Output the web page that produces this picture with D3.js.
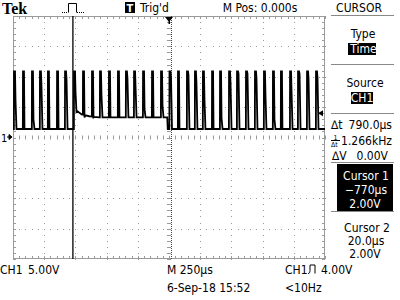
<!DOCTYPE html>
<html><head><meta charset="utf-8">
<script src="https://cdn.jsdelivr.net/npm/d3@7"></script>
<style>body{margin:0;background:#fff}svg{display:block}</style>
</head><body><svg id="c" width="400" height="300"></svg>
<script>
// ---- data ----
const timeRange = [-1250, 1250];      // µs, 250 µs/div, 10 div
const voltRange = [-20, 20];          // V, 5 V/div, 8 div
const pulseTimes = [-1242,-1170,-1098,-1034,-970,-897,-833,-761,-689,-617,-553,-481,-409,-345,-280,-208,-136,-64,4,72,144,208,272,345,409,481,545,617,689,761,833,897,970,1034,1106,1178];
const tailVolts  = [6.2,1.4,3.0,8.6,1.4,1.4,9.5,7.5,3.3,3.3,7.0,3.3,3.3,9.8,8.3,4.7,3.3,5.3,10.0,1.4,10.3,9.0,6.5,1.4,3.2,9.0,10.5,10.5,9.8,7.0,3.0,1.4,7.5,10.5,9.8,9.8];
const highVolt = 10.9;
const baseTimes = [-1250,-762,-738,-700,-640,-560,-14,-10,1250];
const baseVolts = [1.4,1.4,4.4,3.8,3.5,3.3,3.3,1.4,1.4];
const cursorTimes = [-770, 20];
const trigLevel = 4.0;
const topLabels = ["Tek","Trig'd","M Pos: 0.000s","CURSOR"];
const menuLabels = ["Type","Time","Source","CH1"];
const readouts = ["790.0µs","1.266kHz","0.00V"];
const cursor1Lines = ["Cursor 1","\u2212770µs","2.00V"];
const cursor2Lines = ["Cursor 2","20.0µs","2.00V"];
const bottomLabels = ["CH1","5.00V","M 250µs","CH1","4.00V","6-Sep-18 15:52","<10Hz"];

// ---- layout ----
const svg = d3.select("#c");
const L = 13, R = 325, T = 16, B = 259;
const x = d3.scaleLinear().domain(timeRange).range([L, R]);
const y = d3.scaleLinear().domain(voltRange).range([B, T]);
const FONT = "'Liberation Sans Narrow','DejaVu Sans Condensed',Arial,sans-serif";
const grid = "#9a9a9a";

svg.append("rect").attr("width",400).attr("height",300).attr("fill","#fff");

// graticule
const g = svg.append("g");
g.append("rect").attr("x",L+0.5).attr("y",T+0.5).attr("width",R-L-1).attr("height",B-T-1)
  .attr("fill","none").attr("stroke",grid).attr("stroke-width",1);
const xMinor = d3.range(timeRange[0], timeRange[1]+1, 50);
const yMinor = d3.range(voltRange[0], voltRange[1]+0.01, 1);
const xMajor = d3.range(timeRange[0]+250, timeRange[1], 250);
const yMajor = d3.range(voltRange[0]+5, voltRange[1], 5);
xMinor.forEach(t=>{
  const px = Math.round(x(t))+0.5;
  g.append("line").attr("x1",px).attr("x2",px).attr("y1",T).attr("y2",T+3).attr("stroke",grid);
  g.append("line").attr("x1",px).attr("x2",px).attr("y1",B-3).attr("y2",B).attr("stroke",grid);
});
yMinor.forEach(v=>{
  const py = Math.round(y(v))+0.5;
  g.append("line").attr("x1",L).attr("x2",L+3).attr("y1",py).attr("y2",py).attr("stroke",grid);
  g.append("line").attr("x1",R-3).attr("x2",R).attr("y1",py).attr("y2",py).attr("stroke",grid);
});
xMajor.forEach(t=>{
  const px = Math.round(x(t));
  yMinor.forEach(v=>{ g.append("rect").attr("x",px).attr("y",Math.round(y(v))).attr("width",1).attr("height",1).attr("fill",grid);});
});
yMajor.forEach(v=>{
  const py = Math.round(y(v));
  xMinor.forEach(t=>{ g.append("rect").attr("x",Math.round(x(t))).attr("y",py).attr("width",1).attr("height",1).attr("fill",grid);});
});
xMinor.forEach(t=>{ const px=Math.round(x(t))+0.5; g.append("line").attr("x1",px).attr("x2",px).attr("y1",y(0)-2).attr("y2",y(0)+2).attr("stroke",grid);});
yMinor.forEach(v=>{ const py=Math.round(y(v))+0.5; g.append("line").attr("x1",x(0)-2).attr("x2",x(0)+2).attr("y1",py).attr("y2",py).attr("stroke",grid);});

// cursors
svg.append("line").attr("x1",x(cursorTimes[0])).attr("x2",x(cursorTimes[0])).attr("y1",T).attr("y2",B)
  .attr("stroke","#000").attr("stroke-width",1.3);
svg.append("line").attr("x1",Math.round(x(cursorTimes[1]))+0.5).attr("x2",Math.round(x(cursorTimes[1]))+0.5).attr("y1",T).attr("y2",B)
  .attr("stroke","#444").attr("stroke-width",1).attr("stroke-dasharray","1,1");

// trace
const base = d3.scaleLinear().domain(baseTimes).range(baseVolts);
let pts = [];
baseTimes.forEach((t,i)=>{ if(!pulseTimes.some(p=>t>=p-2&&t<=p+22)) pts.push([t, baseVolts[i]]); });
pulseTimes.forEach((p,i)=>{
  pts.push([p-1, base(p-1)],[p, highVolt],[p+8, highVolt],[p+12, tailVolts[i]],[p+20, base(p+20)]);
});
pts.sort((a,b)=>a[0]-b[0]);
svg.append("path").datum(pts)
  .attr("d", d3.line().x(d=>x(d[0])).y(d=>y(d[1])))
  .attr("fill","none").attr("stroke","#000").attr("stroke-width",1.8).attr("stroke-linejoin","miter");

// trigger position marker (top)
const tx = x(0);
svg.append("path").attr("d",`M${tx-4},${T+1}h8l-4,5z M${tx-0.5},${T+5}h1.5v3h-1.5z`).attr("fill","#000");
// trigger level marker (right)
const ty = y(trigLevel);
svg.append("path").attr("d",`M${R-7},${ty}l5,-3v6z`).attr("fill","#000");
// ground marker
svg.append("text").attr("x",1).attr("y",y(0)+4).attr("font-family",FONT).attr("font-size",11).text("1");
svg.append("path").attr("d",`M7,${y(0)-0.5}h3 M9,${y(0)-3}l3,2.5l-3,2.5z`).attr("stroke","#000").attr("fill","#000").attr("stroke-width",1);

// ---- top labels ----
svg.append("text").attr("x",2).attr("y",14).attr("font-family","'Liberation Serif','DejaVu Serif',serif")
  .attr("font-weight","bold").attr("font-size",16).text(topLabels[0]);
svg.append("path").attr("d","M62,12.5h6 M77,12.5h8").attr("stroke","#000").attr("stroke-dasharray","1,1").attr("fill","none");
svg.append("path").attr("d","M68.5,12.5V3.5H76.5V12.5").attr("stroke","#000").attr("fill","none");
svg.append("rect").attr("x",125).attr("y",2).attr("width",10).attr("height",11).attr("fill","#000");
svg.append("text").attr("x",130).attr("y",11.5).attr("text-anchor","middle").attr("fill","#fff")
  .attr("font-family",FONT).attr("font-weight","bold").attr("font-size",11).text("T");
const txt = (s,xx,yy,anchor="start",fill="#000",size=12)=>svg.append("text").attr("x",xx).attr("y",yy)
  .attr("text-anchor",anchor).attr("fill",fill).attr("font-family",FONT).attr("font-size",size).text(s);
txt(topLabels[1],140,12);
txt(topLabels[2],260,12,"middle");
txt(topLabels[3],359,12,"middle");
svg.append("line").attr("x1",331).attr("x2",394).attr("y1",15.5).attr("y2",15.5).attr("stroke","#888");

// ---- right menu ----
const mx = 363;
txt(menuLabels[0],mx,38,"middle");
svg.append("rect").attr("x",348).attr("y",43).attr("width",28).attr("height",12).attr("fill","#000");
txt(menuLabels[1],mx+0.5,53,"middle","#fff");
[64,113,162,211].forEach(sy=>svg.append("line").attr("x1",331).attr("x2",394).attr("y1",sy+0.5).attr("y2",sy+0.5).attr("stroke","#888"));
txt(menuLabels[2],mx+2,87,"middle");
svg.append("rect").attr("x",351).attr("y",92).attr("width",22).attr("height",12).attr("fill","#000");
txt(menuLabels[3],362,102,"middle","#fff");
// readouts
txt("\u2206t",331,129);
txt(readouts[0],392,129,"end");
txt("1",333.5,139.5,"start","#000",7);
svg.append("line").attr("x1",331).attr("x2",340).attr("y1",140.5).attr("y2",140.5).attr("stroke","#000");
txt("\u2206t",331,147,"start","#000",7);
txt(readouts[1],392,145,"end");
txt("\u2206V",332,160);
txt(readouts[2],388,160,"end");
// cursor 1 (highlighted)
svg.append("rect").attr("x",337).attr("y",164).attr("width",56).attr("height",47).attr("fill","#000");
txt(cursor1Lines[0],366,180,"middle","#fff");
txt(cursor1Lines[1],366,194,"middle","#fff");
txt(cursor1Lines[2],365,208,"middle","#fff");
txt(cursor2Lines[0],367,232,"middle");
txt(cursor2Lines[1],366,245,"middle");
txt(cursor2Lines[2],365,258,"middle");

// ---- bottom labels ----
txt(bottomLabels[0],0,274);
txt(bottomLabels[1],28,274);
txt(bottomLabels[2],167,274);
txt(bottomLabels[3],285,274);
svg.append("path").attr("d","M308,273.5c1.5,0,2,-1,2,-3v-5.5h5v8.5").attr("stroke","#000").attr("fill","none");
txt(bottomLabels[4],321,274);
txt(bottomLabels[5],167,292);
txt(bottomLabels[6],285,292);
</script></body></html>
